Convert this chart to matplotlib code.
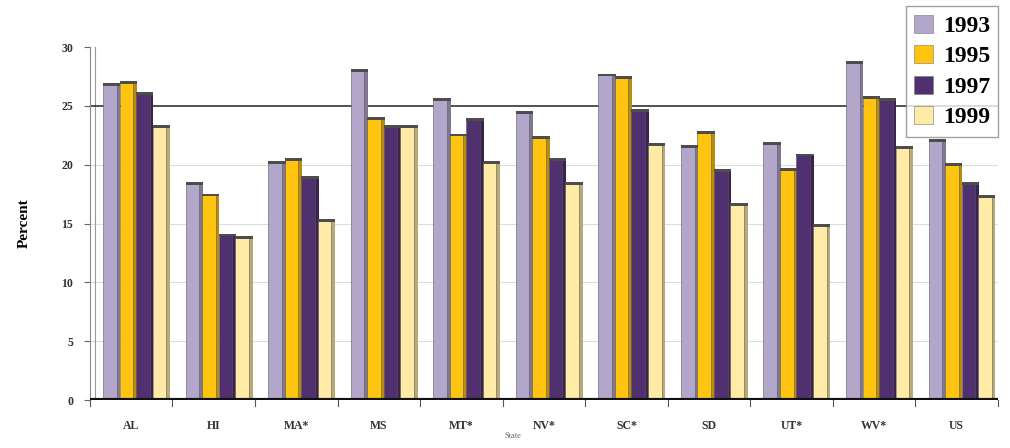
import matplotlib
matplotlib.use("Agg")
import matplotlib.pyplot as plt
import matplotlib.colors as mcolors
from matplotlib.patches import Patch
import numpy as np

states = ["AL", "HI", "MA*", "MS", "MT*", "NV*", "SC*", "SD", "UT*", "WV*", "US"]
years = ["1993", "1995", "1997", "1999"]
v1993 = [26.8, 18.4, 20.2, 28.0, 25.5, 24.4, 27.6, 21.5, 21.8, 28.7, 22.0]
v1995 = [27.0, 17.4, 20.4, 23.9, 22.5, 22.3, 27.4, 22.7, 19.6, 25.7, 20.0]
v1997 = [26.0, 14.0, 18.9, 23.2, 23.8, 20.4, 24.6, 19.5, 20.8, 25.5, 18.4]
v1999 = [23.2, 13.8, 15.2, 23.2, 20.2, 18.4, 21.7, 16.6, 14.8, 21.4, 17.3]
series = [v1993, v1995, v1997, v1999]
colors = ["#B2A7CB", "#FFC40F", "#50306F", "#FFEBA5"]
target = 25

plt.rcParams["font.family"] = ["Liberation Serif", "DejaVu Serif"]

fig = plt.figure(figsize=(10.1, 4.48), dpi=100)
ax = fig.add_axes([0.089, 0.107, 0.899, 0.788])

x = np.arange(len(states))
bw = 0.165
side = 0.045
for i, (vals, col) in enumerate(zip(series, colors)):
    pos = x - 0.4 + 0.06 + i * 0.2 + bw / 2
    dark = tuple(c * 0.72 for c in mcolors.to_rgb(col))
    # side face of each column
    ax.bar(pos + bw / 2 + side / 2, vals, width=side, color=dark, linewidth=0, zorder=3)
    # front face
    ax.bar(pos, vals, width=bw, color=col, edgecolor=(0.35, 0.35, 0.35),
           linewidth=0.4, zorder=4)
    # top edge cap
    ax.bar(pos + side / 2, [0.25] * len(vals), bottom=np.array(vals) - 0.1,
           width=bw + side, color=(0.3, 0.3, 0.3), linewidth=0, zorder=5)

ax.set_xlim(-0.5, len(states) - 0.5)
ax.set_ylim(0, 30)

for gy in [5, 10, 15, 20]:
    ax.axhline(gy, color="#DDDDDD", linewidth=0.8, zorder=1)
ax.axhline(target, color="#333333", linewidth=1.2, zorder=2)
ax.axhline(0, color="#111111", linewidth=3, zorder=6)

ax.spines[["top", "right", "bottom"]].set_visible(False)
ax.spines["left"].set_color("#888888")
ax.axvline(-0.44, color="#999999", linewidth=0.8, zorder=1)

ax.set_yticks(np.arange(0, 31, 5))
ax.set_yticklabels([str(v) for v in range(0, 31, 5)], fontsize=8.5, fontweight="bold",
                   color="#333333")
ax.tick_params(axis="y", length=4, color="#666666", pad=8)

ax.set_xticks(x)
ax.set_xticklabels(states, fontsize=8.5, fontweight="bold", color="#333333")
ax.tick_params(axis="x", length=0, pad=14)
for b in np.arange(-0.5, len(states), 1.0):
    ax.plot([b, b], [0, -0.5], color="#555555", linewidth=0.8, clip_on=False, zorder=6)

ax.set_ylabel("Percent", fontsize=11, fontweight="bold", labelpad=22)
fig.text(0.508, 0.022, "State", fontsize=6, color="#666666", ha="center")

handles = [Patch(facecolor=c, edgecolor="#777777", linewidth=0.4) for c in colors]
leg = fig.legend(handles, years, loc="upper right", bbox_to_anchor=(1.0, 1.012),
                 prop={"size": 17, "weight": "bold"}, handlelength=0.8, handleheight=0.8,
                 handletextpad=0.4, labelspacing=0.35, borderpad=0.35,
                 frameon=True, fancybox=False, edgecolor="#888888")
leg.get_frame().set_linewidth(1.0)

fig.savefig("out.png", dpi=100)
